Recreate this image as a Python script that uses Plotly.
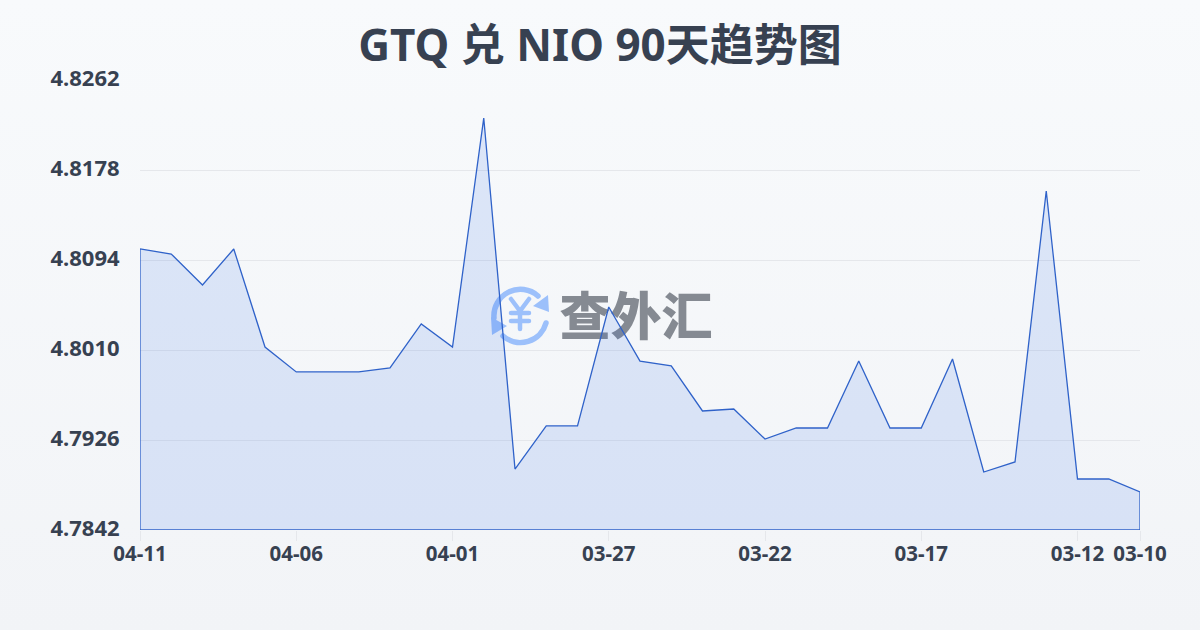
import base64
import plotly.graph_objects as go

dates = ["04-11","04-10","04-09","04-08","04-07","04-06","04-05","04-04","04-03","04-02","04-01",
         "03-31","03-30","03-29","03-28","03-27","03-26","03-25","03-24","03-23","03-22",
         "03-21","03-20","03-19","03-18","03-17","03-16","03-15","03-14","03-13","03-12","03-11","03-10"]
rates = [4.81043,4.80996,4.80707,4.81043,4.80128,4.79895,4.79895,4.79895,4.79932,4.80343,4.80128,
         4.82265,4.78989,4.79391,4.79391,4.80501,4.79997,4.79951,4.79531,4.79549,4.79269,
         4.79372,4.79372,4.79997,4.79372,4.79372,4.80016,4.78961,4.79055,4.81584,4.78896,4.78896,4.78775]
y_ticks = [4.7842,4.7926,4.8010,4.8094,4.8178,4.8262]
y_tick_labels = ["4.7842","4.7926","4.8010","4.8094","4.8178","4.8262"]
x_tick_idx = [0,5,10,15,20,25,30,32]
title = "GTQ 兑 NIO 90天趋势图"
watermark = "查外汇"

TEXT = "#374151"
FONT = "Noto Sans, Noto Sans CJK SC, sans-serif"

svg = """<svg xmlns="http://www.w3.org/2000/svg" width="1200" height="630" viewBox="0 0 1200 630">
<defs><linearGradient id="g" x1="0" y1="0" x2="0" y2="1"><stop offset="0" stop-color="#f8fafc"/><stop offset="1" stop-color="#f2f4f7"/></linearGradient></defs>
<rect width="1200" height="630" fill="url(#g)"/>
<g fill="none" stroke="#9cc0fb" stroke-width="5.5" stroke-linecap="round">
<path d="M494 318 A26.500 26.500 0 0 1 538 296"/>
<path d="M546 323 A26.500 26.500 0 0 1 503 336"/>
<path d="M511 299 L520 311 L529 299 M520 311 V329 M511 313 H529 M511 321 H529" stroke-width="4.500"/>
</g>
<path d="M549 312 L548 295 L533 306 Z M491 317 L492 335 L507 326 Z" fill="#9cc0fb"/>
</svg>"""
bg = "data:image/svg+xml;base64," + base64.b64encode(svg.encode()).decode()

idx = list(range(len(dates)))
base = y_ticks[0]
fig = go.Figure()
fig.add_trace(go.Scatter(x=[15.87], y=[4.80355], mode="text", text=[watermark], hoverinfo="skip",
                         textfont=dict(family="Noto Sans CJK SC", size=51, color="#858a92", weight=900)))
fig.add_trace(go.Scatter(x=idx + [idx[-1], idx[0], idx[0]], y=rates + [base, base, rates[0]],
                         mode="lines", fill="toself", fillcolor="rgba(37,99,235,0.13)", cliponaxis=False,
                         line=dict(color="#2f62c9", width=1.3), hoverinfo="skip"))
fig.update_layout(
    width=1200, height=630, showlegend=False,
    margin=dict(l=140, r=60, t=80, b=100, pad=0),
    paper_bgcolor="rgba(0,0,0,0)", plot_bgcolor="rgba(0,0,0,0)",
    font=dict(family=FONT, color=TEXT),
    title=dict(text=title, x=0.5, xanchor="center", y=0.928, yanchor="middle",
               font=dict(family=FONT, size=44, color=TEXT, weight=700)),
    images=[dict(source=bg, xref="paper", yref="paper", x=-140/1000, y=1+80/450,
                 sizex=1.2, sizey=630/450, sizing="stretch", xanchor="left", yanchor="top", layer="below")],
    xaxis=dict(range=[0,32], tickmode="array", tickvals=x_tick_idx, ticktext=[dates[i] for i in x_tick_idx],
               showgrid=False, zeroline=False, showline=False, ticks="outside", ticklen=10, tickwidth=1,
               ticklabelstandoff=-5,
               tickcolor="#e5e7eb", tickangle=0, tickfont=dict(family=FONT, size=20.5, color=TEXT, weight=700)),
    yaxis=dict(range=[y_ticks[0], y_ticks[-1]], tickmode="array", tickvals=y_ticks, ticktext=y_tick_labels,
               showgrid=True, gridcolor="#e5e7eb", gridwidth=1, zeroline=False, showline=False,
               ticks="outside", ticklen=15, tickcolor="rgba(0,0,0,0)", ticklabelshift=-2,
               tickfont=dict(family=FONT, size=22, color=TEXT, weight=700)),
)
fig.write_html("out.html", config=dict(displayModeBar=False),
               post_script="document.body.style.margin='0';document.body.style.overflow='hidden';")
